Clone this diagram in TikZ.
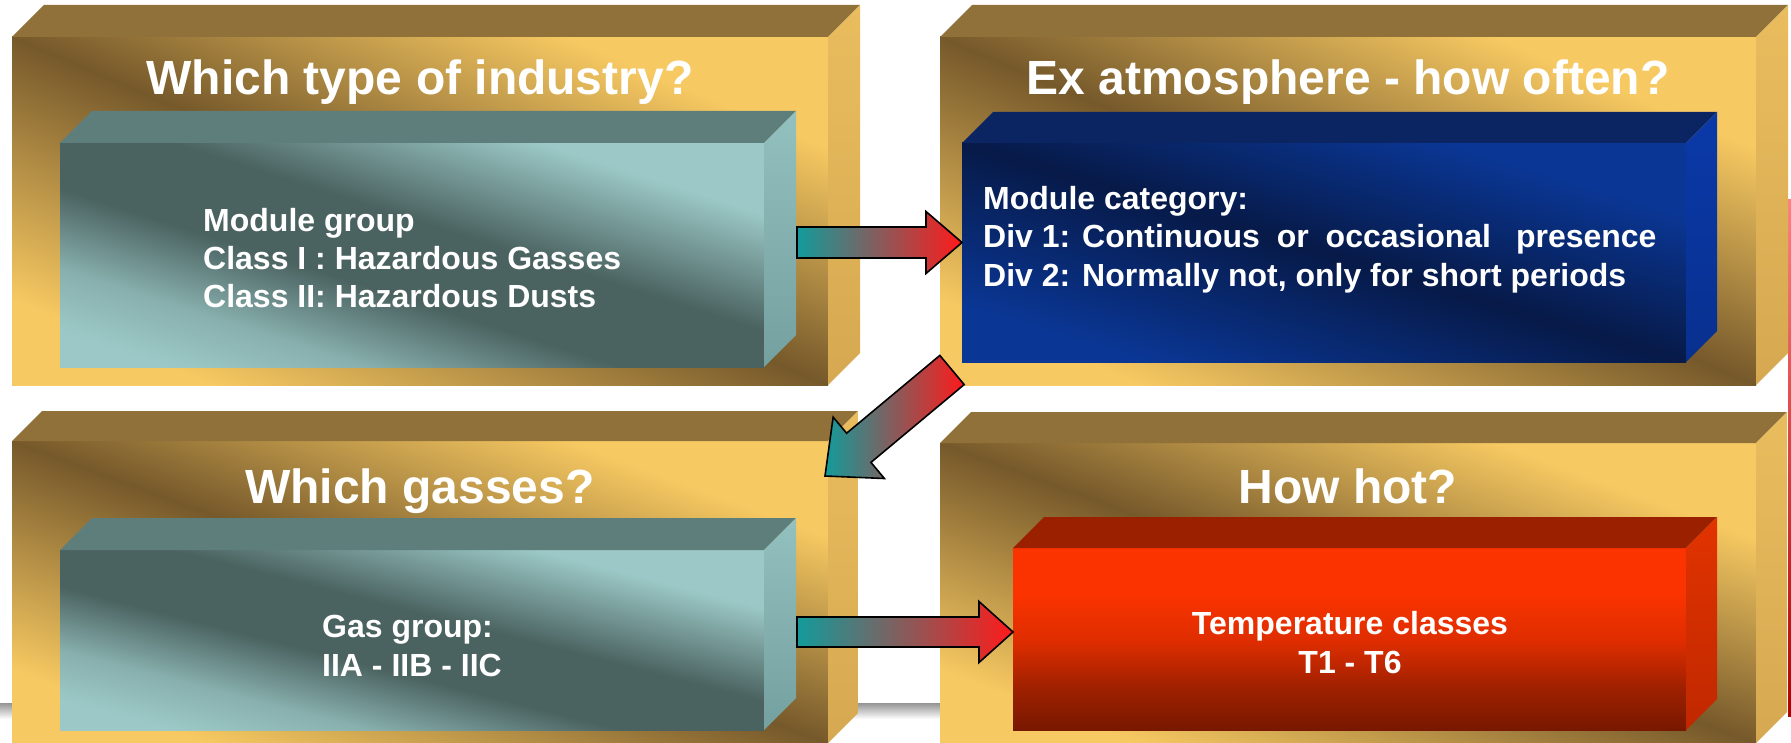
\documentclass[tikz,border=0pt]{standalone}
\usepackage{fontspec}
\setmainfont{Liberation Sans}
\usetikzlibrary{calc}

% palette
\definecolor{goldD}{HTML}{76592B}
\definecolor{goldL}{HTML}{F7C962}
\definecolor{goldTop}{HTML}{91713A}
\definecolor{goldSideT}{HTML}{E9BD5E}
\definecolor{goldSideB}{HTML}{D6A851}
\definecolor{tealD}{HTML}{4A6260}
\definecolor{tealL}{HTML}{9CC9C7}
\definecolor{tealTop}{HTML}{5E7E7C}
\definecolor{tealSideT}{HTML}{93C1C0}
\definecolor{tealSideB}{HTML}{74A09F}
\definecolor{navyD}{HTML}{071A48}
\definecolor{navyL}{HTML}{0A3796}
\definecolor{navyTop}{HTML}{0B2462}
\definecolor{navySideT}{HTML}{0A39A8}
\definecolor{navySideB}{HTML}{08308F}
\definecolor{redT}{HTML}{FA3300}
\definecolor{redM}{HTML}{DD2D00}
\definecolor{redB}{HTML}{781800}
\definecolor{redTop}{HTML}{9A2000}
\definecolor{redSideT}{HTML}{E23300}
\definecolor{redSideB}{HTML}{C02800}
\definecolor{arrTeal}{HTML}{139B9B}
\definecolor{arrRed}{HTML}{FF1A1A}

% diagonal face shadings: one corner of a face sits at 38bp, the opposite one at 62bp
\pgfdeclarehorizontalshading{goldface}{100bp}{color(0bp)=(goldL); color(40.9bp)=(goldL); color(50bp)=(goldD); color(58.2bp)=(goldL); color(100bp)=(goldL)}
\pgfdeclarehorizontalshading{tealface}{100bp}{color(0bp)=(tealL); color(39.9bp)=(tealL); color(43.3bp)=(tealL!75!tealD); color(47.6bp)=(tealD); color(51.9bp)=(tealD); color(58.2bp)=(tealL); color(100bp)=(tealL)}
\pgfdeclarehorizontalshading{navyface}{100bp}{color(0bp)=(navyL); color(40.9bp)=(navyL); color(50bp)=(navyD); color(58.2bp)=(navyL); color(100bp)=(navyL)}
% bottom-to-top face shading: bottom edge at 25bp, top edge at 75bp
\pgfdeclareverticalshading{redface}{100bp}{color(0bp)=(redB); color(25bp)=(redB); color(37bp)=(redB!60!redM); color(49bp)=(redM); color(62bp)=(redT); color(75bp)=(redT); color(100bp)=(redT)}

\tikzset{
  gold top/.style={fill=goldTop},
  gold side/.style={top color=goldSideT, bottom color=goldSideB},
  teal top/.style={fill=tealTop},
  teal side/.style={top color=tealSideT, bottom color=tealSideB},
  navy top/.style={fill=navyTop},
  navy side/.style={top color=navySideT, bottom color=navySideB},
  red top/.style={fill=redTop},
  red side/.style={top color=redSideT, bottom color=redSideB},
  heading/.style={text=white, font=\fontsize{48}{58}\selectfont\bfseries, inner sep=0pt, anchor=base},
  body/.style={text=white, font=\fontsize{32}{38}\selectfont\bfseries, inner sep=0pt, anchor=base west},
  bodyc/.style={body, anchor=base},
  arrowbody/.style={draw=black, line width=1.6pt, line join=miter, left color=arrTeal, right color=arrRed},
}

% a box seen from the front with its top and right faces
% #1 name, #2 #3 front north-west corner, #4 width, #5 height, #6 depth, #7 material,
% #8 = 1: front shaded across its diagonal, 0: shaded from bottom to top
\newcommand\slab[8]{%
  \node[anchor=north west, minimum width=#4pt, minimum height=#5pt,
        inner sep=0pt, outer sep=0pt] (#1) at (#2,#3) {};
  \ifnum#8=1
    \pgfmathsetmacro\faceang{atan2(#4,#5)}%
    \pgfmathsetmacro\facespan{(50/12)*100*(#4/100)*(#5/100)/sqrt((#4/100)^2+(#5/100)^2)}%
    \begin{scope}
      \clip (#1.north west) rectangle (#1.south east);
      \shade[shading=#7face, shading angle=\faceang]
        ($(#1.center)+(-\facespan/2,-\facespan/2)$) rectangle +(\facespan,\facespan);
    \end{scope}
  \else
    \shade[shading=#7face] (#1.north west) rectangle (#1.south east);
  \fi
  \path[#7 top] (#1.north west) -- ++(#6,-#6) -- ([shift={(#6,-#6)}]#1.north east)
        -- (#1.north east) -- cycle;
  \path[#7 side] (#1.north east) -- ++(#6,-#6) -- ([shift={(#6,-#6)}]#1.south east)
        -- (#1.south east) -- cycle;
}

% block arrow from tail #1 to tip #2: shaft half width #3, head half width #4, head length #5
\newcommand\blockarrow[5]{%
  \coordinate (#1-base) at ($(#2)!#5!(#1)$);
  \path[arrowbody] ($(#1)!#3!90:(#2)$) -- ($(#1-base)!#3!90:(#2)$)
     -- ($(#1-base)!#4!90:(#2)$) -- (#2) -- ($(#1-base)!#4!-90:(#2)$)
     -- ($(#1-base)!#3!-90:(#2)$) -- ($(#1)!#3!-90:(#2)$) -- cycle;
}

\begin{document}
\begin{tikzpicture}[x=1pt, y=-1pt]
\useasboundingbox (0,0) rectangle (1791,743);

% soft floor shadow and the edge strip at the right
\path[top color=black!42, bottom color=white] (0,703) rectangle (940,719);
\path[top color=red!50!white, bottom color=red!70!black] (1788,200) rectangle (1791,716);

% outer gold frames
\slab{gA}{12}{37}{816}{348}{32}{gold}{1}
\slab{gB}{940}{37}{816}{348}{32}{gold}{1}
\slab{gC}{12}{441}{816}{302}{30}{gold}{1}
\slab{gD}{940}{443}{816}{300}{31}{gold}{1}

% inner boxes
\slab{iA}{60}{143}{704}{224}{32}{teal}{1}
\slab{iB}{962}{143}{724}{219}{31}{navy}{1}
\slab{iC}{60}{550}{704}{180}{32}{teal}{1}
\slab{iD}{1013}{548}{673}{182}{31}{red}{0}

% headings
\node[heading] (hA) at (420,95) {Which type of industry?};
\node[heading] (hB) at (1348,95) {Ex atmosphere - how often?};
\node[heading] (hC) at (420,503) {Which gasses?};
\node[heading] (hD) at (1348,503) {How hot?};

% box contents
\node[body] (tA1) at (203,232) {Module group};
\node[body] (tA2) at (203,270) {Class I : Hazardous Gasses};
\node[body] (tA3) at (203,308) {Class II: Hazardous Dusts};

\node[body] (tB1) at (983,210) {Module category:};
\node[body] (tB2) at (983,248) {Div 1: Continuous\hspace{0.25em} or\hspace{0.25em} occasional\hspace{0.5em} presence};
\node[body] (tB3) at (983,287) {Div 2: Normally not, only for short periods};

\node[body] (tC1) at (322,637) {Gas group:};
\node[body] (tC2) at (322,676) {IIA - IIB - IIC};

\node[bodyc] (tD1) at (1350,634) {Temperature classes};
\node[bodyc] (tD2) at (1350,673) {T1 - T6};

% flow arrows
\coordinate (a1t) at (797,242.5);
\coordinate (a1h) at (iB.west |- a1t);
\blockarrow{a1t}{a1h}{15.5pt}{31pt}{36pt}

\coordinate (a2t) at (952,370);
\coordinate (a2h) at (825,476);
\blockarrow{a2t}{a2h}{19pt}{40pt}{44pt}

\coordinate (a3t) at (797,632);
\coordinate (a3h) at (iD.west |- a3t);
\blockarrow{a3t}{a3h}{15pt}{30.5pt}{34pt}
\end{tikzpicture}
\end{document}
